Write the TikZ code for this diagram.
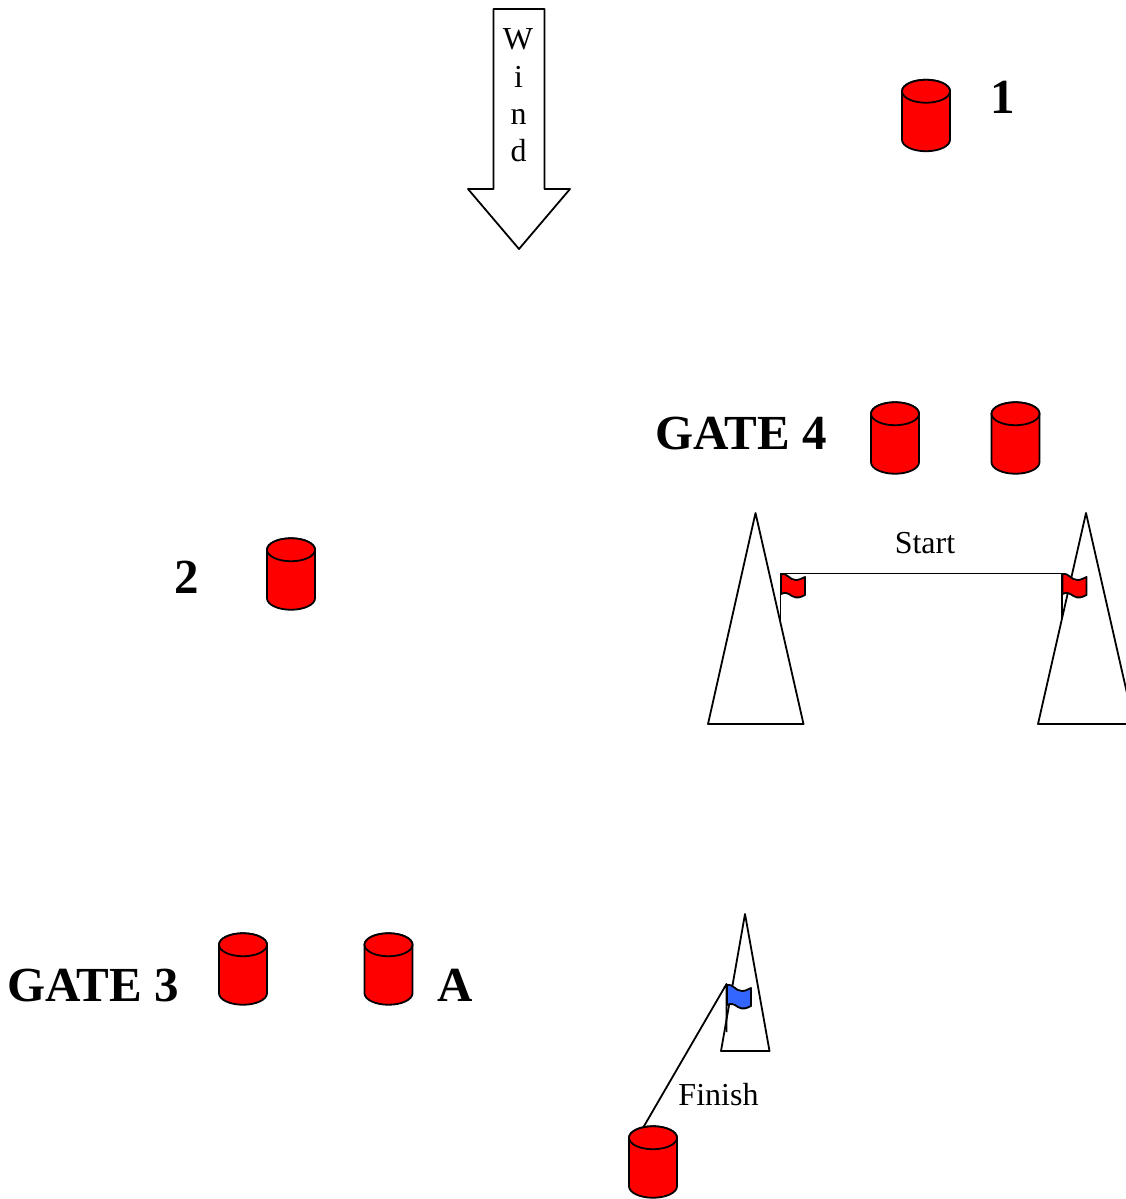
\documentclass[tikz,border=0pt]{standalone}
\usepackage{fontspec}
\setmainfont{Liberation Serif}
\definecolor{flagblue}{RGB}{51,102,255}
\tikzset{
  x=1pt,y=-1pt,
  ln/.style={draw=black,line width=1.8pt,line join=round},
  bigl/.style={font=\fontsize{49}{49}\selectfont\bfseries,inner sep=0pt,anchor=base},
  smalll/.style={font=\fontsize{32}{32}\selectfont,inner sep=0pt,anchor=base},
  pics/barrel/.style={code={
    \path[ln,fill=red] (-24,-24.25) -- (-24,24.25) arc[start angle=180,end angle=360,x radius=24,y radius=-11.5] -- (24,-24.25)
       arc[start angle=0,end angle=180,x radius=24,y radius=-11.5] -- cycle;
    \path[ln,fill=red] (0,-24.25) ellipse[x radius=24,y radius=11.5];
  }},
  pics/flag/.style={code={
    \path[ln,fill=#1] (0,0) .. controls (7,-1) and (8,6) .. (15,6) .. controls (19,6) and (21,4) .. (24,3)
      -- (24,21) .. controls (20,23) and (16,25) .. (11,22) .. controls (7,19) and (4,18) .. (0,20) -- cycle;
  }}
}
\begin{document}
\begin{tikzpicture}
\useasboundingbox (0,0) rectangle (1126,1199);
% wind arrow
\path[ln,fill=white] (493.5,9) -- (544.5,9) -- (544.5,189) -- (570,189) -- (519,249) -- (468,189) -- (493.5,189) -- cycle;
\node[smalll] (w1) at (518,50) {W};
\node[smalll] (w2) at (518.5,87) {i};
\node[smalll] (w3) at (518.5,124) {n};
\node[smalll] (w4) at (518.5,161) {d};
% barrels
\pic at (926,115.5) {barrel};
\pic at (895,438) {barrel};
\pic at (1015.5,438) {barrel};
\pic at (291,574) {barrel};
\pic at (243,969) {barrel};
\pic at (388.5,969) {barrel};
% barrel labels
\node[bigl] (n1) at (1002.5,113) {1};
\node[bigl] (gate4) at (741,449) {GATE 4};
\node[bigl] (n2) at (187,593) {2};
\node[bigl] (gate3) at (93,1001) {GATE 3};
\node[bigl] (na) at (455.5,1001) {A};
% start
\path[ln,fill=white] (755.5,513) -- (803.5,724) -- (708,724) -- cycle;
\path[ln,fill=white] (1086,513) -- (1134,724) -- (1038,724) -- cycle;
\coordinate (pl) at (780.5,573.5);
\coordinate (pr) at (1062,573.5);
\coordinate (plb) at (780.5,621);
\coordinate (prb) at (1062,619);
\draw[ln] (plb) -- (pl) -- (pr) -- (prb);
\pic at (781,574) {flag=red};
\pic at (1062.5,574) {flag=red};
\node[smalll] (start) at (925,553) {Start};
% finish
\path[ln,fill=white] (745,914) -- (769.5,1051) -- (721,1051) -- cycle;
\coordinate (pf) at (726.5,984);
\coordinate (pfb) at (726.5,1032);
\coordinate (bf) at (643.5,1127);
\draw[ln] (bf) -- (pf) -- (pfb);
\pic at (727,985) {flag=flagblue};
\pic at (653,1162) {barrel};
\node[smalll] (finish) at (718.5,1105) {Finish};
\end{tikzpicture}
\end{document}
